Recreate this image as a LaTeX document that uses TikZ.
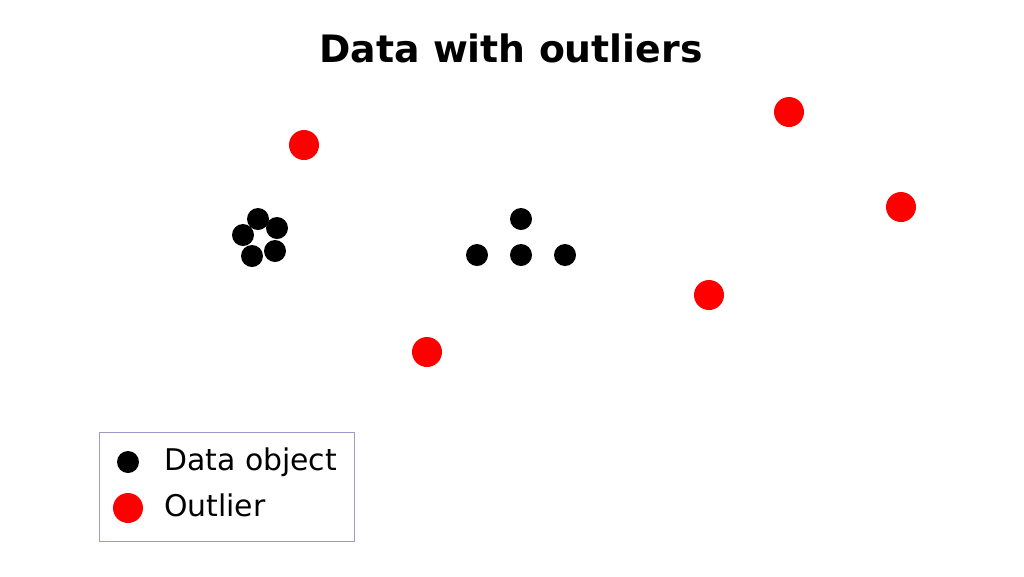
\documentclass[tikz,border=0pt]{standalone}
\usepackage{fontspec}
\setmainfont{DejaVu Sans}
\begin{document}
\begin{tikzpicture}[x=0.02cm,y=-0.02cm,
  obj/.style={shape=circle,fill=black,inner sep=0pt,minimum size=0.44cm},
  outl/.style={shape=circle,fill=red,inner sep=0pt,minimum size=0.6cm}]
\useasboundingbox (0,0) rectangle (1024,576);
\node (title) at (511,48) {\fontsize{21.5}{26}\selectfont\bfseries Data with outliers};

%% data objects
\node[obj] (a1) at (258,219) {};
\node[obj] (a2) at (277,228) {};
\node[obj] (a3) at (243,235) {};
\node[obj] (a4) at (252,256) {};
\node[obj] (a5) at (275,251) {};
\node[obj] (b1) at (521,219) {};
\node[obj] (b2) at (477,255) {};
\node[obj] (b3) at (521,255) {};
\node[obj] (b4) at (565,255) {};

%% outliers
\node[outl] (o1) at (304,145) {};
\node[outl] (o2) at (789,112) {};
\node[outl] (o3) at (901,207) {};
\node[outl] (o4) at (709,295) {};
\node[outl] (o5) at (427,352) {};

%% legend
\draw[gray!70!blue!60] (99,432) rectangle (354,541);
\node[obj] (lk1) at (128,462) {};
\node[outl] (lk2) at (128,508) {};
\node[anchor=west] (lt1) at (158,462) {\fontsize{17}{20}\selectfont Data object};
\node[anchor=west] (lt2) at (158,505) {\fontsize{17}{20}\selectfont Outlier};
\end{tikzpicture}
\end{document}
